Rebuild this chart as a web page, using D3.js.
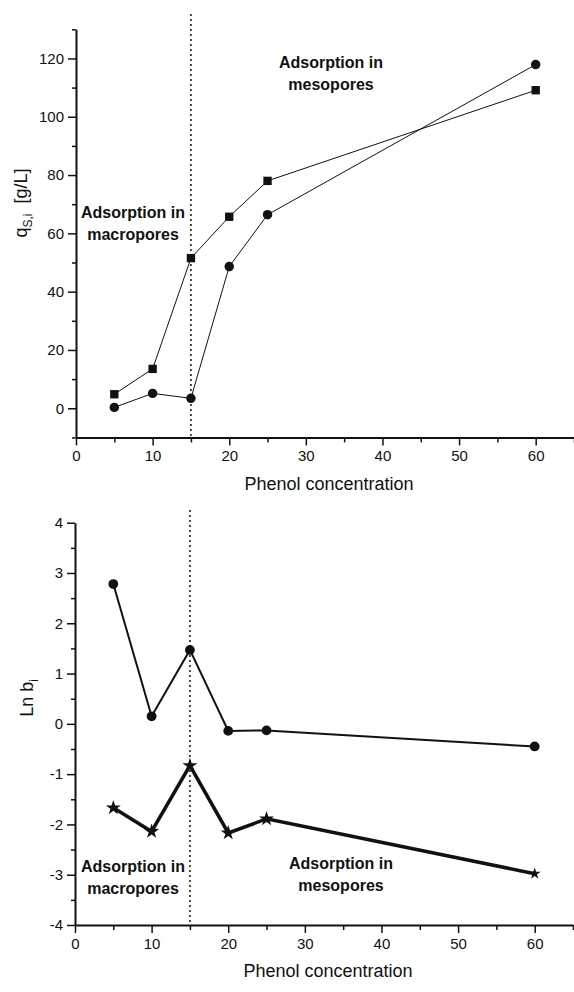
<!DOCTYPE html>
<html lang="en">
<head>
    <meta charset="UTF-8">
    <title>Phenol adsorption: q and Ln b vs concentration</title>
    <script src="https://d3js.org/d3.v7.min.js"></script>
    <style>
        body { margin: 0; background: #fff; }
        text { font-family: "Liberation Sans", Arial, Helvetica, sans-serif; fill: #111; }
    </style>
</head>
<body>
    <svg id="chart" width="574" height="992"></svg>
    <script>
        // phenol concentrations shared by every series
        const concentration = [5, 10, 15, 20, 25, 60];

        // upper panel: adsorbed amount q_S,i [g/L]
        const qSquares = [4.8, 13.5, 51.5, 65.7, 78.0, 109.1];
        const qCircles = [0.3, 5.1, 3.4, 48.6, 66.4, 117.9];

        // lower panel: Ln b_i
        const lnbCircles = [2.78, 0.15, 1.47, -0.14, -0.13, -0.45];
        const lnbStars = [-1.67, -2.14, -0.83, -2.17, -1.89, -2.98];

        const xMajor = [0, 10, 20, 30, 40, 50, 60];
        const xMinor = [5, 15, 25, 35, 45, 55, 65];
        const qMajor = [0, 20, 40, 60, 80, 100, 120];
        const qMinor = [-10, 10, 30, 50, 70, 90, 110, 130];
        const lnbMajor = [-4, -3, -2, -1, 0, 1, 2, 3, 4];
        const lnbMinor = [-3.5, -2.5, -1.5, -0.5, 0.5, 1.5, 2.5, 3.5];

        const boundary = 15; // macropore / mesopore limit

        const svg = d3.select("#chart");
        const plain = d => String(d); // keep an ASCII hyphen for negatives

        function drawAxes(g, x, y, yMajor, yMinor) {
            const [y0] = y.range();
            const [x0] = x.range();

            // x axis
            g.append("g")
                .attr("transform", `translate(0,${y0})`)
                .call(d3.axisBottom(x).tickValues(xMinor).tickSize(5).tickFormat(""))
                .call(a => a.select(".domain").remove());
            g.append("g")
                .attr("transform", `translate(0,${y0})`)
                .call(d3.axisBottom(x).tickValues(xMajor).tickSize(8).tickPadding(5).tickSizeOuter(0).tickFormat(plain))
                .call(a => a.selectAll("text").attr("font-size", 15));

            // y axis
            g.append("g")
                .attr("transform", `translate(${x0},0)`)
                .call(d3.axisLeft(y).tickValues(yMinor).tickSize(4).tickFormat(""))
                .call(a => a.select(".domain").remove());
            g.append("g")
                .attr("transform", `translate(${x0},0)`)
                .call(d3.axisLeft(y).tickValues(yMajor).tickSize(8).tickPadding(4).tickSizeOuter(0).tickFormat(plain))
                .call(a => a.selectAll("text").attr("font-size", 15));

            g.selectAll(".domain").attr("stroke-width", 2).attr("stroke", "#111");
            g.selectAll(".tick line").attr("stroke-width", 1.5).attr("stroke", "#111");
        }

        function dottedBoundary(g, x, y, yStart) {
            g.append("line")
                .attr("x1", x(boundary)).attr("x2", x(boundary))
                .attr("y1", yStart).attr("y2", y.range()[0])
                .attr("stroke", "#111")
                .attr("stroke-width", 1.5)
                .attr("stroke-dasharray", "2,3");
        }

        function series(g, x, y, values, width) {
            const pts = concentration.map((c, i) => [x(c), y(values[i])]);
            g.append("path")
                .attr("d", d3.line()(pts))
                .attr("fill", "none")
                .attr("stroke", "#111")
                .attr("stroke-width", width);
            return pts;
        }

        function markers(g, pts, type, size) {
            g.selectAll(null)
                .data(pts)
                .join("path")
                .attr("transform", d => `translate(${d[0]},${d[1]})`)
                .attr("d", (d, i) => d3.symbol().type(type).size(typeof size === "function" ? size(i) : size)())
                .attr("fill", "#111");
        }

        function note(g, x, y, lines) {
            const t = g.append("text")
                .attr("text-anchor", "middle")
                .attr("font-size", 16)
                .attr("font-weight", "bold");
            lines.forEach((s, i) => {
                t.append("tspan").attr("x", x).attr("y", y + i * 21.5).text(s);
            });
        }

        function xTitle(g, x, yPos) {
            g.append("text")
                .attr("x", (x.range()[0] + x.range()[1]) / 2 + 4)
                .attr("y", yPos)
                .attr("text-anchor", "middle")
                .attr("font-size", 18)
                .text("Phenol concentration");
        }

        // ---- upper panel ----
        const upper = svg.append("g");
        const xUp = d3.scaleLinear().domain([0, 65]).range([76, 574]);
        const yUp = d3.scaleLinear().domain([-10, 130]).range([437.4, 29.3]);

        dottedBoundary(upper, xUp, yUp, 14);
        drawAxes(upper, xUp, yUp, qMajor, qMinor);

        const sqPts = series(upper, xUp, yUp, qSquares, 1);
        const ciPts = series(upper, xUp, yUp, qCircles, 1);
        markers(upper, sqPts, d3.symbolSquare, 70);
        markers(upper, ciPts, d3.symbolCircle, 70);

        note(upper, 133, 218, ["Adsorption in", "macropores"]);
        note(upper, 331, 68, ["Adsorption in", "mesopores"]);
        xTitle(upper, xUp, 490);

        const qLabel = upper.append("text")
            .attr("transform", "translate(27,203) rotate(-90)")
            .attr("text-anchor", "middle")
            .attr("font-size", 18);
        qLabel.append("tspan").text("q");
        qLabel.append("tspan").attr("font-size", 12).attr("dy", 5).text("S,i");
        qLabel.append("tspan").attr("dy", -5).text("\u00a0 [g/L]");

        // ---- lower panel ----
        const lower = svg.append("g");
        const xLo = d3.scaleLinear().domain([0, 65]).range([75, 573]);
        const yLo = d3.scaleLinear().domain([-4, 4]).range([925, 522.7]);

        dottedBoundary(lower, xLo, yLo, 510);
        drawAxes(lower, xLo, yLo, lnbMajor, lnbMinor);

        const bcPts = series(lower, xLo, yLo, lnbCircles, 2);
        const bsPts = series(lower, xLo, yLo, lnbStars, 3.5);
        markers(lower, bcPts, d3.symbolCircle, 75);
        markers(lower, bsPts, d3.symbolStar, i => i === 5 ? 45 : 70);

        note(lower, 133, 872, ["Adsorption in", "macropores"]);
        note(lower, 341, 869, ["Adsorption in", "mesopores"]);
        xTitle(lower, xLo, 977);

        const bLabel = lower.append("text")
            .attr("transform", "translate(33,698) rotate(-90)")
            .attr("text-anchor", "middle")
            .attr("font-size", 18);
        bLabel.append("tspan").text("Ln b");
        bLabel.append("tspan").attr("font-size", 12).attr("dy", 5).text("i");
    </script>
</body>
</html>
